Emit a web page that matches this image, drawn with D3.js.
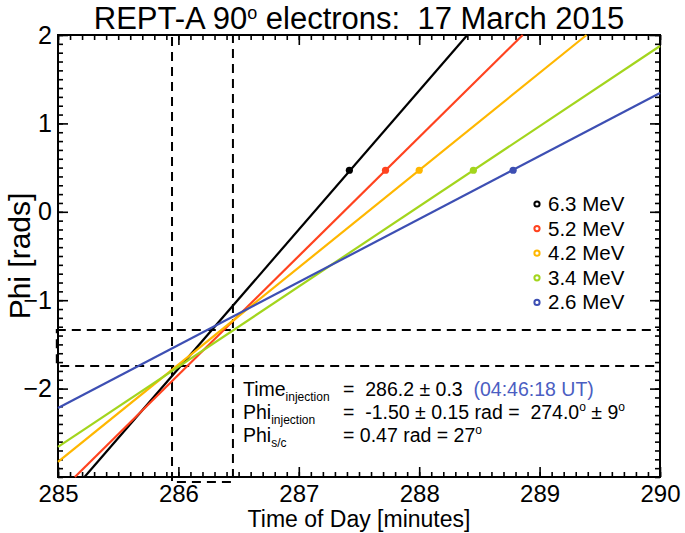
<!DOCTYPE html>
<html>
<head>
<meta charset="utf-8">
<script src="https://cdn.jsdelivr.net/npm/d3@7"></script>
<style>
  body { margin: 0; background: #fff; }
  text { font-family: "Liberation Sans", Arial, Helvetica, sans-serif; fill: #000; }
</style>
</head>
<body>
<div id="chart"></div>
<script>
// chart values
var energies = ["6.3 MeV", "5.2 MeV", "4.2 MeV", "3.4 MeV", "2.6 MeV"];
var colors = ["#000000", "#ff431f", "#ffb700", "#a3d51d", "#3d4fb3"];
// straight phase lines: start and end points
var startTime = [285.22, 285.14, 285.0, 285.0, 285.0];
var startPhi = [-3.0, -3.0, -2.83, -2.66, -2.22];
var endTime = [288.40, 288.86, 289.39, 290.0, 290.0];
var endPhi = [2.0, 2.0, 2.0, 1.876, 1.344];
// spacecraft phase marker
var markerTime = [287.42, 287.72, 288.00, 288.45, 288.78];
var phiSc = 0.47;
// injection bands
var timeBand = [285.947, 286.453];
var phiBand = [-1.337, -1.744];

var xTicks = [285, 286, 287, 288, 289, 290];
var yTicks = [-2, -1, 0, 1, 2];

//set the svg size
var svgWidth = 685;
var svgHeight = 533;

var margin = { top: 35, right: 25, bottom: 56, left: 58 };
var width = svgWidth - margin.left - margin.right;
var height = svgHeight - margin.top - margin.bottom;

var svg = d3.select("#chart")
  .append("svg")
  .attr("width", svgWidth)
  .attr("height", svgHeight);

var chartGroup = svg.append("g")
  .attr("transform", `translate(${margin.left}, ${margin.top})`);

var xScale = d3.scaleLinear().domain([285, 290]).range([0, width]);
var yScale = d3.scaleLinear().domain([-3, 2]).range([height, 0]);

var minorX = d3.range(0, 51).map(i => 285 + i / 10);
var minorY = d3.range(0, 51).map(i => -3 + i / 10);

// ticks go inward on all four sides
function addAxis(axis, transform) {
  var g = chartGroup.append("g").attr("transform", transform).call(axis);
  g.select(".domain").remove();
  g.selectAll("line").attr("stroke", "#000").attr("stroke-width", 1.6);
  return g;
}

addAxis(d3.axisBottom(xScale).tickValues(minorX).tickSize(-5).tickFormat(""), `translate(0, ${height})`);
addAxis(d3.axisTop(xScale).tickValues(minorX).tickSize(-5).tickFormat(""), "translate(0, 0)");
addAxis(d3.axisLeft(yScale).tickValues(minorY).tickSize(-5).tickFormat(""), "translate(0, 0)");
addAxis(d3.axisRight(yScale).tickValues(minorY).tickSize(-5).tickFormat(""), `translate(${width}, 0)`);

// major ticks with labels
var xAxis = addAxis(d3.axisBottom(xScale).tickValues(xTicks).tickSize(-10).tickPadding(8).tickFormat(d3.format("d")), `translate(0, ${height})`);
xAxis.selectAll("text").attr("font-size", 24).attr("fill", "#000");
addAxis(d3.axisTop(xScale).tickValues(xTicks).tickSize(-10).tickFormat(""), "translate(0, 0)");

var yAxis = addAxis(d3.axisLeft(yScale).tickValues(yTicks).tickSize(-10).tickPadding(6).tickFormat(d3.format("d")), "translate(0, 0)");
yAxis.selectAll("text").attr("font-size", 25).attr("fill", "#000");
addAxis(d3.axisRight(yScale).tickValues(yTicks).tickSize(-10).tickFormat(""), `translate(${width}, 0)`);

// frame
chartGroup.append("rect")
  .attr("width", width)
  .attr("height", height)
  .attr("fill", "none")
  .attr("stroke", "#000")
  .attr("stroke-width", 2);

// dashed boxes
chartGroup.append("rect")
  .attr("x", xScale(timeBand[0]))
  .attr("y", yScale(2))
  .attr("width", xScale(timeBand[1]) - xScale(timeBand[0]))
  .attr("height", yScale(-3.057) - yScale(2))
  .attr("fill", "none")
  .attr("stroke", "#000")
  .attr("stroke-width", 2)
  .attr("stroke-dasharray", "9,6");

chartGroup.append("rect")
  .attr("x", xScale(284.99))
  .attr("y", yScale(phiBand[0]))
  .attr("width", xScale(290) - xScale(284.99))
  .attr("height", yScale(phiBand[1]) - yScale(phiBand[0]))
  .attr("fill", "none")
  .attr("stroke", "#000")
  .attr("stroke-width", 2)
  .attr("stroke-dasharray", "9,6");

// phase lines
var lineData = energies.map(function(e, i) {
  return { color: colors[i], pts: [[startTime[i], startPhi[i]], [endTime[i], endPhi[i]]], t: markerTime[i] };
});

var line = d3.line().x(d => xScale(d[0])).y(d => yScale(d[1]));

chartGroup.selectAll(".phase")
  .data(lineData)
  .enter()
  .append("path")
  .attr("class", "phase")
  .attr("d", d => line(d.pts))
  .attr("fill", "none")
  .attr("stroke", d => d.color)
  .attr("stroke-width", 2.2);

chartGroup.selectAll(".marker")
  .data(lineData)
  .enter()
  .append("circle")
  .attr("class", "marker")
  .attr("cx", d => xScale(d.t))
  .attr("cy", yScale(phiSc))
  .attr("r", 3.6)
  .attr("fill", d => d.color);

// legend
var legend = chartGroup.append("g")
  .attr("transform", `translate(${537 - margin.left}, ${204 - margin.top})`);

energies.forEach(function(e, i) {
  var row = legend.append("g").attr("transform", `translate(0, ${i * 24.6})`);
  row.append("circle")
    .attr("r", 2.6)
    .attr("fill", "#fff")
    .attr("stroke", colors[i])
    .attr("stroke-width", 2);
  row.append("text")
    .attr("x", 11)
    .attr("y", 7)
    .attr("font-size", 20.5)
    .text(e);
});

// annotation
var note = svg.append("g");
function sub(t, s, y) {
  var txt = note.append("text").attr("x", 243).attr("y", y).attr("font-size", 19.5);
  txt.append("tspan").text(t);
  txt.append("tspan").attr("font-size", 12).attr("dy", 5).text(s);
}

sub("Time", "injection", 396);
sub("Phi", "injection", 419);
sub("Phi", "s/c", 442);

var r1 = note.append("text").attr("x", 343).attr("y", 396).attr("font-size", 19.5).attr("xml:space", "preserve");
r1.append("tspan").text("=  286.2 \u00b1 0.3  ");
r1.append("tspan").attr("fill", "#4b5ec2").text("(04:46:18 UT)");

var r2 = note.append("text").attr("x", 343).attr("y", 419).attr("font-size", 19.5).attr("xml:space", "preserve");
r2.append("tspan").text("=  -1.50 \u00b1 0.15 rad =  274.0");
r2.append("tspan").attr("font-size", 12).attr("dy", -8).text("o");
r2.append("tspan").attr("dy", 8).text(" \u00b1 9");
r2.append("tspan").attr("font-size", 12).attr("dy", -8).text("o");

var r3 = note.append("text").attr("x", 343).attr("y", 442).attr("font-size", 19.5);
r3.append("tspan").text("= 0.47 rad = 27");
r3.append("tspan").attr("font-size", 12).attr("dy", -8).text("o");

// title
var title = svg.append("text")
  .attr("x", 359)
  .attr("y", 29)
  .attr("text-anchor", "middle")
  .attr("font-size", 31)
  .attr("xml:space", "preserve");
title.append("tspan").text("REPT-A 90");
title.append("tspan").attr("font-size", 18).attr("dy", -10).text("o");
title.append("tspan").attr("dy", 10).text(" electrons:  17 March 2015");

// axis labels
svg.append("text")
  .attr("x", margin.left + width / 2)
  .attr("y", 527)
  .attr("text-anchor", "middle")
  .attr("font-size", 23)
  .text("Time of Day [minutes]");

svg.append("text")
  .attr("transform", "translate(30, 256) rotate(-90)")
  .attr("text-anchor", "middle")
  .attr("font-size", 30)
  .text("Phi [rads]");
</script>
</body>
</html>
